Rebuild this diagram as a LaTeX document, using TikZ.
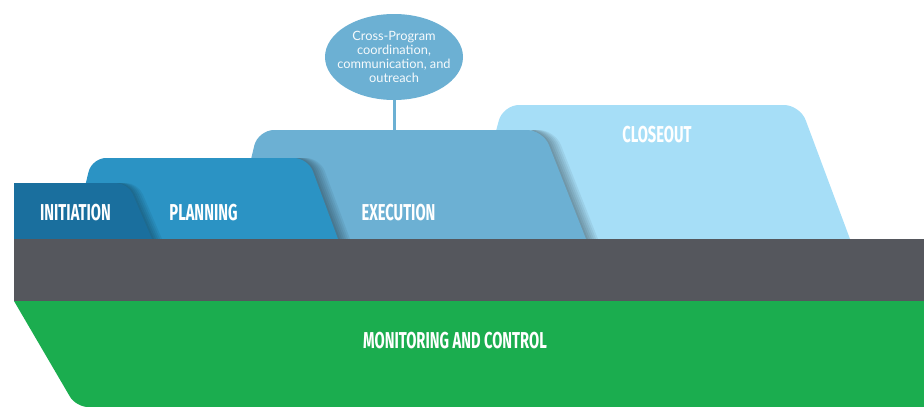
\documentclass[tikz,border=0pt]{standalone}
\usepackage{fontspec}
\setmainfont{Lato}
\newfontfamily\capsfont{Fira Sans}
\usepackage{graphicx}
\usetikzlibrary{positioning, shapes.geometric}
\definecolor{initblue}{HTML}{1A6F9E}
\definecolor{planblue}{HTML}{2B93C4}
\definecolor{execblue}{HTML}{6CB0D3}
\definecolor{closeblue}{HTML}{A6DEF7}
\definecolor{bandgray}{HTML}{55575D}
\definecolor{mcgreen}{HTML}{1BAD4F}
\newcommand{\narrow}[1]{\scalebox{0.64}[1]{#1}}

\begin{document}
\begin{tikzpicture}[
  x=1pt, y=-1pt,
  phase/.style={text=white, inner sep=0pt, font=\capsfont\bfseries\fontsize{23}{23}\selectfont},
  bubble/.style={ellipse, fill=execblue, minimum width=138pt, minimum height=86pt,
    inner xsep=-9pt, inner ysep=0pt, align=center, text=white!94!execblue,
    font=\fontsize{12.8}{13.8}\selectfont},
  stem/.style={execblue, line width=3pt},
  shade/.style={fill=black, fill opacity=0.06}
]
\useasboundingbox (0,0) rectangle (924,407);

% phase tabs, back to front, each with a soft shadow on its right
\fill[closeblue] (467,239) [rounded corners=16pt] -- (503,105) -- (800,105) [sharp corners] -- (850,239) -- cycle;
\foreach \s in {2,4,...,12}
  \fill[shade] (500,239) [rounded corners=16pt] -- (520,130) -- (543+\s,130) [sharp corners] -- (586+\s,239) -- cycle;
\fill[execblue] (232,239) [rounded corners=16pt] -- (258,130) -- (543,130) [sharp corners] -- (586,239) -- cycle;
\foreach \s in {2,4,...,12}
  \fill[shade] (250,239) [rounded corners=14pt] -- (270,158) -- (308+\s,158) [sharp corners] -- (338+\s,239) -- cycle;
\fill[planblue] (72,239) [rounded corners=14pt] -- (92,158) -- (308,158) [sharp corners] -- (338,239) -- cycle;
\foreach \s in {2,4,...,10}
  \fill[shade] (90,239) [rounded corners=12pt] -- (90,183) -- (128+\s,183) [sharp corners] -- (152+\s,239) -- cycle;
\fill[initblue] (14,239) -- (14,183) [rounded corners=12pt] -- (128,183) [sharp corners] -- (152,239) -- cycle;

% base bands
\fill[bandgray] (14,239) rectangle (924,301);
\fill[mcgreen] (924,301) -- (14,301) [rounded corners=12pt] -- (76,407) [sharp corners] -- (924,407) -- cycle;

% labels
\node[phase] (init) at (75.5,213) {\narrow{INITIATION}};
\node[phase] (plan) at (203.5,213) {\narrow{PLANNING}};
\node[phase] (exec) at (398.5,213) {\narrow{EXECUTION}};
\node[phase] (close) at (657,135) {\narrow{CLOSEOUT}};
\node[phase] (monitor) at (455,340.5) {\narrow{MONITORING AND CONTROL}};

% cross-program bubble
\node[bubble] (cross) at (394,57) {Cross-Program\\coordination,\\communication, and\\outreach};
\coordinate (exectop) at (394,131);
\draw[stem] (cross) -- (exectop);

\end{tikzpicture}
\end{document}
